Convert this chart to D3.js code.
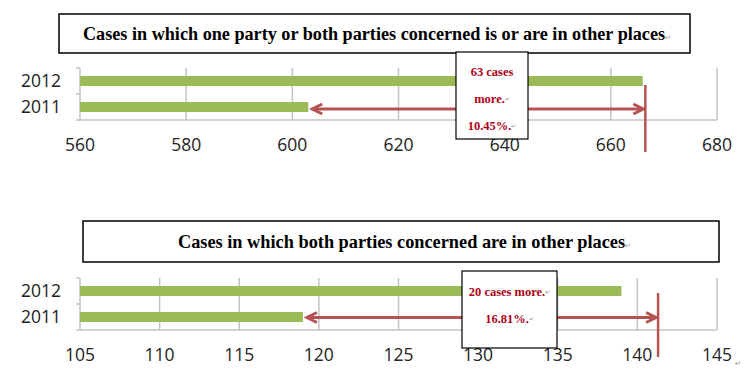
<!DOCTYPE html>
<html><head><meta charset="utf-8">
<script src="https://cdn.jsdelivr.net/npm/d3@7"></script>
<style>
html,body{margin:0;padding:0;background:#fff;}
svg{display:block;}
</style></head>
<body>
<svg id="chart" width="755" height="383"></svg>
<script>
const years = ["2012", "2011"];
const values1 = [666, 603];
const values2 = [139, 119];
const ticks1 = [560, 580, 600, 620, 640, 660, 680];
const ticks2 = [105, 110, 115, 120, 125, 130, 135, 140, 145];
const titles = [
  "Cases in which one party or both parties concerned is or are in other places",
  "Cases in which both parties concerned are in other places"
];
const markValues = [666.5, 141.3];
const noteLines1 = ["63 cases", "more.", "10.45%."];
const noteLines2 = ["20 cases more.", "16.81%."];

const svg = d3.select("#chart");
const GREEN = "#9bbb59", RED = "#b65352", NOTE = "#b00018", GRID = "#c4c4c4";

const charts = [
  {values: values1, ticks: ticks1, domain: [560, 680], top: 68, bottom: 120, title: titles[0],
   titleBox: [59, 14, 631, 39], titleLen: 588, titleX: 83, mark: markValues[0],
   note: noteLines1, noteBox: [456, 52, 72, 87], noteYs: [73, 100, 127], markY: [85, 152], arrowDy: 2},
  {values: values2, ticks: ticks2, domain: [105, 145], top: 278, bottom: 330, title: titles[1],
   titleBox: [83, 221, 636, 41], titleLen: 453, titleX: 178, mark: markValues[1],
   note: noteLines2, noteBox: [462, 271, 95, 77], noteYs: [293, 320], markY: [293, 357], arrowDy: 0.5}
];

charts.forEach(c => {
  const x = d3.scaleLinear().domain(c.domain).range([80, 717]);
  const y = d3.scaleBand().domain(years).range([c.top, c.bottom]);
  const g = svg.append("g");

  // title box
  g.append("rect").attr("x", c.titleBox[0]).attr("y", c.titleBox[1])
    .attr("width", c.titleBox[2]).attr("height", c.titleBox[3])
    .attr("fill", "#fff").attr("stroke", "#000").attr("stroke-width", 1.5);
  const tt = g.append("text").attr("x", c.titleX).attr("y", c.titleBox[1] + c.titleBox[3] / 2 + 6.5)
    .attr("font-family", "Liberation Serif, Times New Roman, serif").attr("font-weight", "bold")
    .attr("font-size", 18).attr("fill", "#000")
    .attr("textLength", c.titleLen).attr("lengthAdjust", "spacingAndGlyphs");
  tt.append("tspan").text(c.title);
  tt.append("tspan").attr("font-family", "DejaVu Sans").attr("font-weight", "normal")
    .attr("font-size", 7).attr("fill", "#999").text("↵");

  // gridlines
  g.selectAll(".grid").data(c.ticks.slice(1)).join("line")
    .attr("x1", d => x(d)).attr("x2", d => x(d))
    .attr("y1", c.top).attr("y2", c.bottom)
    .attr("stroke", GRID).attr("stroke-width", 1.5);
  // baseline and y axis
  g.append("line").attr("x1", x(c.domain[0])).attr("x2", x(c.domain[1]))
    .attr("y1", c.bottom).attr("y2", c.bottom).attr("stroke", GRID).attr("stroke-width", 1.5);
  g.append("line").attr("x1", 80).attr("x2", 80).attr("y1", c.top).attr("y2", c.bottom)
    .attr("stroke", GRID).attr("stroke-width", 1.5);
  const bounds = [c.top, ...years.map(yr => y(yr) + y.bandwidth())];
  g.selectAll(".ytick").data(bounds).join("line")
    .attr("x1", 76).attr("x2", 80).attr("y1", d => d).attr("y2", d => d)
    .attr("stroke", GRID).attr("stroke-width", 1.5);

  // bars
  g.selectAll(".bar").data(years).join("rect")
    .attr("x", x(c.domain[0])).attr("y", (d) => y(d) + y.bandwidth() / 2 - 5)
    .attr("width", (d, i) => x(c.values[i]) - x(c.domain[0])).attr("height", 10)
    .attr("fill", GREEN);

  // year labels
  g.selectAll(".ylab").data(years).join("text")
    .attr("x", 61).attr("y", d => y(d) + y.bandwidth() / 2 + 1)
    .attr("text-anchor", "end").attr("dominant-baseline", "middle")
    .attr("font-family", "Open Sans, sans-serif").attr("font-size", 17.5).attr("fill", "#222")
    .text(d => d);

  // x tick labels
  g.selectAll(".xlab").data(c.ticks).join("text")
    .attr("x", d => x(d)).attr("y", c.bottom + 26)
    .attr("text-anchor", "middle").attr("dominant-baseline", "middle")
    .attr("font-family", "Open Sans, sans-serif").attr("font-size", 17.5).attr("fill", "#222")
    .text(d => d);

  // arrow
  const ay = y(years[1]) + y.bandwidth() / 2 + c.arrowDy;
  const x0 = x(c.values[1]) + 3, x1 = x(c.mark) - 1;
  g.append("line").attr("x1", x0 + 2).attr("x2", x1 - 2).attr("y1", ay).attr("y2", ay)
    .attr("stroke", RED).attr("stroke-width", 3);
  g.append("path").attr("d", `M${x0 + 11},${ay - 5} L${x0 + 1},${ay} L${x0 + 11},${ay + 5}`)
    .attr("fill", "none").attr("stroke", RED).attr("stroke-width", 3);
  g.append("path").attr("d", `M${x1 - 11},${ay - 5} L${x1 - 1},${ay} L${x1 - 11},${ay + 5}`)
    .attr("fill", "none").attr("stroke", RED).attr("stroke-width", 3);
  g.append("line").attr("x1", x(c.mark)).attr("x2", x(c.mark))
    .attr("y1", c.markY[0]).attr("y2", c.markY[1]).attr("stroke", RED).attr("stroke-width", 2.5);

  // note box
  const nb = c.noteBox;
  g.append("rect").attr("x", nb[0]).attr("y", nb[1]).attr("width", nb[2]).attr("height", nb[3])
    .attr("fill", "#fff").attr("stroke", "#000").attr("stroke-width", 1.2);
  c.note.forEach((line, i) => {
    const t = g.append("text").attr("x", nb[0] + nb[2] / 2).attr("y", c.noteYs[i])
      .attr("text-anchor", "middle").attr("dominant-baseline", "middle")
      .attr("font-family", "Liberation Serif, Times New Roman, serif").attr("font-weight", "bold")
      .attr("font-size", 12.5).attr("fill", NOTE);
    t.append("tspan").text(line);
    if (i > 0 || c.note.length === 2) t.append("tspan").attr("font-size", 6).attr("font-weight", "normal").attr("fill", "#999").text("↵");
  });
});

svg.append("text").attr("x", 735).attr("y", 366).attr("font-family", "DejaVu Sans")
  .attr("font-size", 8).attr("fill", "#999").text("↵");
</script>
</body></html>
